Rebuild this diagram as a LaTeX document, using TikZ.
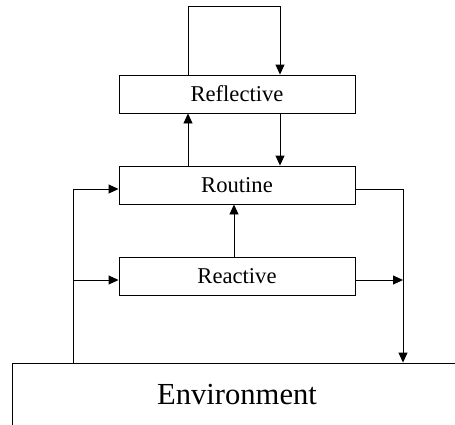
\documentclass[tikz,border=0pt]{standalone}
\usepackage{fontspec}
\setmainfont{Liberation Serif}
\usetikzlibrary{arrows.meta,calc}
\begin{document}
\begin{tikzpicture}[x=1pt,y=-1pt,
  layerbox/.style={draw=black,line width=0.9pt,minimum width=236pt,minimum height=38pt,
    inner sep=0pt,font=\fontsize{22.6}{27}\selectfont},
  envbox/.style={draw=black,line width=0.9pt,minimum width=450pt,minimum height=64pt,
    inner sep=0pt,font=\fontsize{30.6}{36}\selectfont},
  link/.style={draw=black,line width=0.9pt},
  flow/.style={link,-{Triangle[length=10pt,width=9pt]}}]
\useasboundingbox (0,0) rectangle (455,424);
\clip (0,0) rectangle (455,424);

% the three layers and the environment
\node[layerbox] (refl) at (237,94) {Reflective};
\node[layerbox] (rout) at (237,185) {Routine};
\node[layerbox] (react) at (237,276) {Reactive};
\node[envbox] (env) at (237,395) {Environment};

% column and row positions of the connectors
\coordinate (cUp) at (188,0);
\coordinate (cDown) at (280,0);
\coordinate (cMid) at (234,0);
\coordinate (cLeft) at (73,0);
\coordinate (cRight) at (403,0);
\coordinate (loopTop) at (0,6);
\coordinate (rRout) at (0,189);
\coordinate (rReact) at (0,280);

% self loop on the reflective layer
\draw[flow] (refl.north -| cUp) |- (loopTop -| cDown) -- (refl.north -| cDown);

% links between the layers
\draw[flow] (rout.north -| cUp) -- (refl.south -| cUp);
\draw[flow] (refl.south -| cDown) -- (rout.north -| cDown);
\draw[flow] (react.north -| cMid) -- (rout.south -| cMid);

% input from the environment
\draw[flow] (env.north -| cLeft) |- (rout.west |- rRout);
\draw[flow] (cLeft |- rReact) -- (react.west |- rReact);

% output to the environment
\draw[flow] (rout.east |- rRout) -| (env.north -| cRight);
\draw[flow] (react.east |- rReact) -- (cRight |- rReact);
\end{tikzpicture}
\end{document}
